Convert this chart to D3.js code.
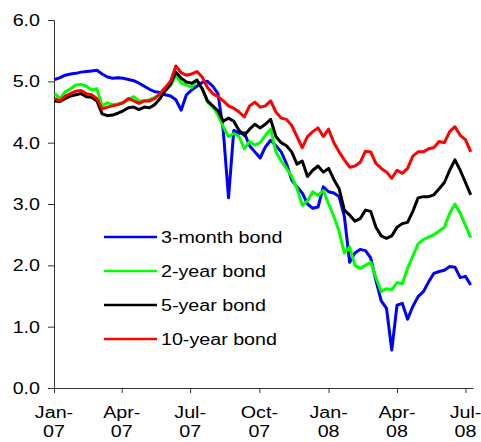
<!DOCTYPE html>
<html>
<head>
<meta charset="utf-8">
<script src="https://cdn.jsdelivr.net/npm/d3@7"></script>
<style>
  body { margin: 0; background: #fff; }
  text { font-family: "Liberation Sans", Arial, sans-serif; font-size: 16px; fill: #000; }
</style>
</head>
<body>
<div id="chart"></div>
<script>
// weekly observations, first one on 2 Jan 2007
var firstDate = new Date(2007, 0, 2);

var bond3m = [5.03, 5.06, 5.10, 5.12, 5.13, 5.15, 5.16, 5.17, 5.18, 5.12,
  5.07, 5.05, 5.06, 5.05, 5.03, 5.01, 4.97, 4.92, 4.87, 4.83,
  4.82, 4.78, 4.76, 4.70, 4.53, 4.78, 4.86, 4.92, 4.98, 5.00,
  4.92, 4.80, 4.20, 3.10, 4.20, 4.15, 4.16, 3.95, 3.85, 3.75,
  3.93, 4.04, 3.95, 3.85, 3.66, 3.39, 3.28, 3.18, 3.00, 2.93,
  2.95, 3.28, 3.20, 3.18, 3.12, 2.80, 2.05, 2.20, 2.26, 2.24,
  2.12, 1.75, 1.42, 1.30, 0.62, 1.35, 1.38, 1.12, 1.33, 1.49,
  1.57, 1.73, 1.87, 1.90, 1.92, 1.98, 1.97, 1.80, 1.82, 1.68];

var bond2y = [4.80, 4.72, 4.83, 4.88, 4.94, 4.95, 4.92, 4.86, 4.88, 4.60,
  4.65, 4.62, 4.63, 4.66, 4.70, 4.75, 4.68, 4.68, 4.70, 4.74,
  4.78, 4.85, 4.93, 5.10, 4.97, 4.94, 4.90, 5.02, 4.88, 4.66,
  4.59, 4.45, 4.26, 4.10, 4.15, 4.10, 3.90, 4.02, 3.96, 4.00,
  4.12, 4.22, 3.85, 3.70, 3.58, 3.45, 3.25, 2.98, 3.05, 3.20,
  3.14, 3.22, 3.00, 2.80, 2.55, 2.20, 2.30, 2.00, 1.95, 2.00,
  2.05, 1.80, 1.57, 1.62, 1.60, 1.72, 1.70, 1.95, 2.15, 2.35,
  2.42, 2.46, 2.50, 2.56, 2.62, 2.85, 3.00, 2.85, 2.65, 2.45];

var bond5y = [4.68, 4.67, 4.72, 4.76, 4.78, 4.80, 4.75, 4.74, 4.68, 4.47,
  4.44, 4.45, 4.48, 4.52, 4.57, 4.58, 4.54, 4.58, 4.57, 4.62,
  4.72, 4.85, 4.96, 5.15, 5.05, 4.99, 4.97, 5.02, 4.88, 4.68,
  4.60, 4.52, 4.35, 4.40, 4.35, 4.20, 4.12, 4.22, 4.30, 4.24,
  4.30, 4.38, 4.10, 4.00, 3.95, 3.85, 3.65, 3.70, 3.45, 3.55,
  3.62, 3.52, 3.58, 3.40, 3.25, 2.90, 2.82, 2.72, 2.76, 2.90,
  2.88, 2.62, 2.48, 2.44, 2.48, 2.62, 2.68, 2.70, 2.88, 3.10,
  3.12, 3.12, 3.15, 3.25, 3.35, 3.55, 3.72, 3.55, 3.35, 3.15];

var bond10y = [4.72, 4.68, 4.76, 4.80, 4.84, 4.85, 4.80, 4.78, 4.72, 4.55,
  4.58, 4.60, 4.62, 4.65, 4.72, 4.68, 4.64, 4.68, 4.68, 4.72,
  4.80, 4.90, 5.00, 5.25, 5.14, 5.10, 5.12, 5.16, 5.07, 4.90,
  4.80, 4.75, 4.68, 4.60, 4.56, 4.50, 4.42, 4.60, 4.66, 4.58,
  4.60, 4.68, 4.50, 4.40, 4.38, 4.28, 4.10, 3.92, 4.10, 4.18,
  4.24, 4.10, 4.22, 4.00, 3.85, 3.72, 3.60, 3.62, 3.68, 3.86,
  3.85, 3.66, 3.58, 3.52, 3.42, 3.55, 3.50, 3.58, 3.78, 3.85,
  3.85, 3.90, 3.92, 4.02, 4.00, 4.18, 4.26, 4.12, 4.05, 3.85];

var seriesNames = ["3-month bond", "2-year bond", "5-year bond", "10-year bond"];
var seriesColors = ["#0000ff", "#00ff00", "#000000", "#ff0000"];
var seriesValues = [bond3m, bond2y, bond5y, bond10y];

var yTicks = [0, 1, 2, 3, 4, 5, 6];
var xTickDates = [new Date(2007, 0, 1), new Date(2007, 3, 1), new Date(2007, 6, 1),
  new Date(2007, 9, 1), new Date(2008, 0, 1), new Date(2008, 3, 1), new Date(2008, 6, 1)];
var xTickLabels = [["Jan-", "07"], ["Apr-", "07"], ["Jul-", "07"], ["Oct-", "07"],
  ["Jan-", "08"], ["Apr-", "08"], ["Jul-", "08"]];

var width = 481, height = 442;
var stretch = 1.23; // text in the picture is a bit wider than plain Arial

var svg = d3.select('#chart')
  .append('svg')
  .attr('width', width)
  .attr('height', height);

var x = d3.scaleTime()
  .domain([new Date(2007, 0, 1), new Date(2008, 6, 11)])
  .range([54, 473]);

var y = d3.scaleLinear()
  .domain([0, 6])
  .range([388, 20]);

/* y axis */
var yAxis = svg.append('g')
  .attr('transform', 'translate(54,0)')
  .call(d3.axisLeft(y).tickValues(yTicks).tickSize(6).tickFormat(''));
yAxis.select('.domain').attr('stroke', '#333');
yAxis.selectAll('.tick line').attr('stroke', '#333');

yTicks.forEach(function(t) {
  svg.append('text')
    .attr('transform', 'translate(40,' + (y(t) + 6) + ') scale(' + stretch + ',1)')
    .attr('text-anchor', 'end')
    .text(d3.format('.1f')(t));
});

/* x axis */
var xAxis = svg.append('g')
  .attr('transform', 'translate(0,388)')
  .call(d3.axisBottom(x).tickValues(xTickDates).tickSize(5).tickSizeOuter(0).tickFormat(''));
xAxis.select('.domain').attr('stroke', '#333');
xAxis.selectAll('.tick line').attr('stroke', '#333');

xTickDates.forEach(function(d, i) {
  svg.append('text')
    .attr('transform', 'translate(' + x(d) + ',418) scale(' + stretch + ',1)')
    .attr('text-anchor', 'middle')
    .text(xTickLabels[i][0]);
  svg.append('text')
    .attr('transform', 'translate(' + x(d) + ',437) scale(' + stretch + ',1)')
    .attr('text-anchor', 'middle')
    .text(xTickLabels[i][1]);
});

/* lines */
var lineFunc = d3.line()
  .x(function(d, i) { return x(d3.timeDay.offset(firstDate, 7 * i)); })
  .y(function(d) { return y(d); });

seriesValues.forEach(function(vals, i) {
  svg.append('path')
    .attr('d', lineFunc(vals))
    .attr('fill', 'none')
    .attr('stroke', seriesColors[i])
    .attr('stroke-width', 3)
    .attr('stroke-linejoin', 'round');
});

/* legend */
var legend = svg.append('g').attr('class', 'legend');
seriesNames.forEach(function(name, i) {
  var ly = 237 + i * 34;
  legend.append('line')
    .attr('x1', 104).attr('x2', 157)
    .attr('y1', ly).attr('y2', ly)
    .attr('stroke', seriesColors[i])
    .attr('stroke-width', 2.5);
  legend.append('text')
    .attr('transform', 'translate(161,' + (ly + 5.5) + ') scale(' + stretch + ',1)')
    .text(name);
});
</script>
</body>
</html>
